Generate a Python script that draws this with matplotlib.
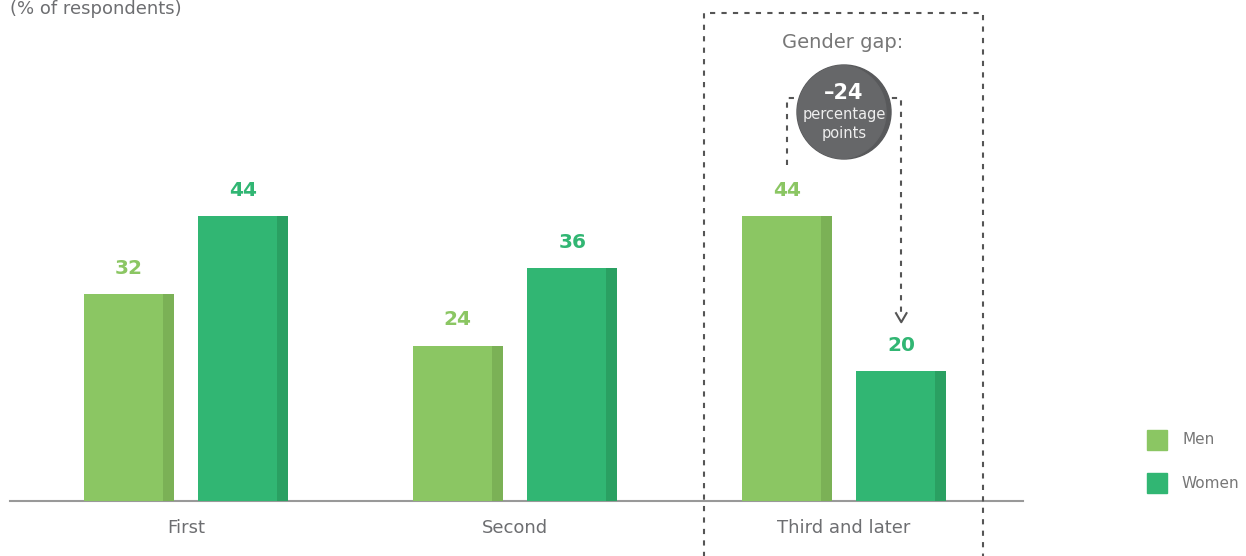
import matplotlib
matplotlib.use("Agg")
import matplotlib.pyplot as plt
from matplotlib.patches import Ellipse, Rectangle

plt.rcParams['font.family'] = ['DejaVu Sans']

# data
categories = ["First", "Second", "Third and later"]
men = [32, 24, 44]
women = [44, 36, 20]
series_names = ["Men", "Women"]
gap_label = "\u201324"

men_col, men_dark = "#8bc663", "#7bb156"
wom_col, wom_dark = "#31b673", "#2aa062"
grey = "#6d6e71"

W, H = 1246, 556
fig = plt.figure(figsize=(W / 100, H / 100), dpi=100)

# helper: pixel coords (from top-left) -> figure fraction
def fx(px):
    return px / W

def fy(py):
    return 1 - py / H

ax = fig.add_axes([fx(10), fy(501), fx(1023) - fx(10), fy(0) - fy(501)])
ax.set_xlim(-0.535, 2.544)
ax.set_ylim(0, 77.35)
ax.axis("off")
ax.axhline(0, color="#999999", lw=1.5, clip_on=False)

bw = 0.2736
off = 0.174
strip = 0.034
for i, cat in enumerate(categories):
    for val, dx, c, cd in [(men[i], -off, men_col, men_dark), (women[i], off, wom_col, wom_dark)]:
        x0 = i + dx - bw / 2
        ax.bar(i + dx, val, bw, color=c, zorder=2)
        ax.add_patch(Rectangle((x0 + bw - strip, 0), strip, val, color=cd, zorder=3, lw=0))
        ax.text(i + dx, val + 2.5, str(val), ha="center", va="bottom", fontsize=14.5,
                fontweight="heavy", color=c)
    ax.text(i, -4.2, cat, ha="center", va="center", fontsize=13, color=grey)

# gender gap bracket
gi = 2
xl, xr = gi - off, gi + off
ytop = 62.2
ax.plot([xl, xl, xr, xr], [men[gi] + 7.9, ytop, ytop, women[gi] + 8.2], ls=(0, (2.5, 3)),
        color="#555555", lw=1.5, zorder=1)
ax.plot([xr - 0.016, xr, xr + 0.016], [women[gi] + 9.0, women[gi] + 7.6, women[gi] + 9.0],
        color="#555555", lw=1.5)

# dashed box
fig.lines.append(plt.Line2D([fx(704), fx(704), fx(983), fx(983)], [fy(560), fy(13), fy(13), fy(560)],
                            transform=fig.transFigure, ls=(0, (2.5, 3)), color="#555555", lw=1.5))
fig.text(fx(843), fy(42), "Gender gap:", ha="center", va="center", fontsize=14, color="#777777")

# circle badge
cx, cy, r = 844, 112, 47
dark = Ellipse((fx(cx), fy(cy)), 2 * r / W, 2 * r / H, transform=fig.transFigure,
               color="#58595b", zorder=5)
fig.patches.append(dark)
light = Ellipse((fx(cx - 5), fy(cy)), 2 * r / W, 2 * r / H, transform=fig.transFigure,
                color="#666769", zorder=6)
fig.patches.append(light)
light.set_clip_path(dark)
fig.text(fx(cx), fy(93), gap_label, ha="center", va="center", fontsize=15, fontweight="bold",
         color="white", zorder=7)
fig.text(fx(cx), fy(114), "percentage", ha="center", va="center", fontsize=10.5, color="#eeeeee", zorder=7)
fig.text(fx(cx), fy(133), "points", ha="center", va="center", fontsize=10.5, color="#eeeeee", zorder=7)

# top-left unit label
fig.text(fx(10), fy(0), "(% of respondents)", ha="left", va="top", fontsize=13, color=grey)

# legend
for name, c, py in [(series_names[0], men_col, 440), (series_names[1], wom_col, 483)]:
    fig.patches.append(Rectangle((fx(1147), fy(py + 10)), 20 / W, 20 / H, transform=fig.transFigure,
                                 color=c))
    fig.text(fx(1182), fy(py), name, ha="left", va="center", fontsize=11, color="#777777")

fig.savefig("out.png", dpi=100)
